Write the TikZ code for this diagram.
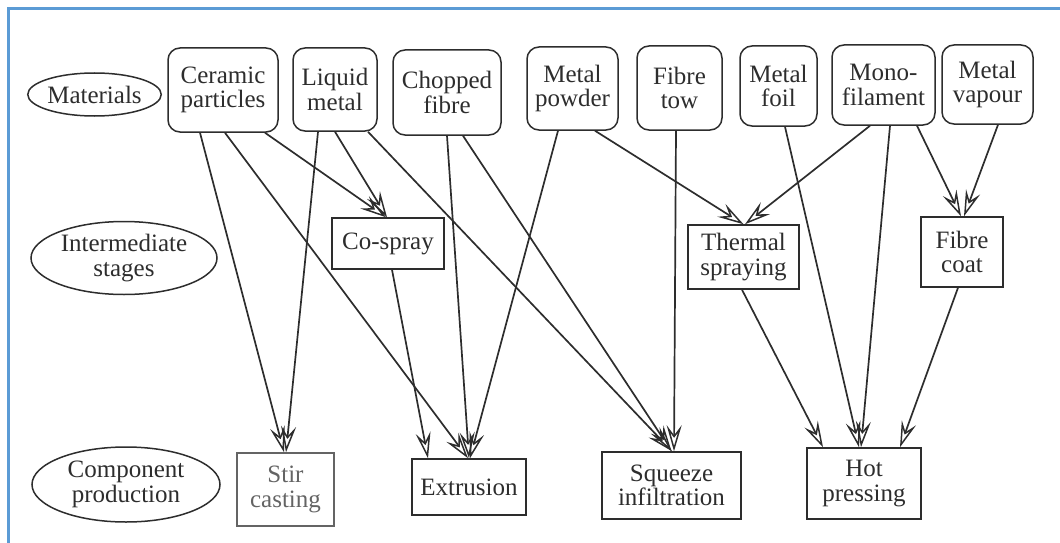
\documentclass[tikz,border=0pt]{standalone}
\usepackage{fontspec}
\setmainfont{Liberation Serif}
\newfontfamily\diagfont{Liberation Serif}
\usetikzlibrary{shapes.geometric,arrows.meta}
\definecolor{ink}{RGB}{45,45,45}
\definecolor{paleink}{RGB}{100,100,100}
\definecolor{frameblue}{RGB}{91,155,213}
\tikzset{
  every node/.style={font=\diagfont\fontsize{25}{24.5}\selectfont, text=ink, align=center, inner sep=0pt},
  stage/.style={draw=ink, line width=1.5pt, ellipse},
  source/.style={draw=ink, line width=1.5pt, rounded corners=12pt},
  process/.style={draw=ink, line width=1.5pt},
  flow/.style={draw=ink, line width=1.7pt,
    -{Stealth[open, length=26pt, width=15pt, inset=10pt, line width=1.5pt]}}
}
\begin{document}
\begin{tikzpicture}[x=1pt, y=-1pt]
  \useasboundingbox (0,0) rectangle (1060,543);
  % frame
  \draw[frameblue, line width=2.2pt] (1060,8.5) -- (8.5,8.5) -- (8.5,543);

  % row labels
  \node[stage, minimum width=125pt, minimum height=43pt] (mat) at (94.5,94.5) {Materials};
  \node[stage, minimum width=186pt, minimum height=73pt] (inter) at (124,258) {Intermediate\\stages};
  \node[stage, minimum width=188pt, minimum height=75pt] (comp) at (126,484.5) {Component\\production};

  % materials
  \node[source, minimum width=110pt, minimum height=84pt] (cer) at (223,90) {Ceramic\\particles};
  \node[source, minimum width=84pt, minimum height=83pt] (liq) at (335,89.5) {Liquid\\metal};
  \node[source, minimum width=108pt, minimum height=85pt] (cho) at (447,92.5) {Chopped\\fibre};
  \node[source, minimum width=91pt, minimum height=83pt] (pow) at (572.5,88.5) {Metal\\powder};
  \node[source, minimum width=85pt, minimum height=84pt] (tow) at (679.5,88) {Fibre\\tow};
  \node[source, minimum width=77pt, minimum height=80pt] (foil) at (778.5,86) {Metal\\foil};
  \node[source, minimum width=103pt, minimum height=80pt] (mono) at (883.5,85) {Mono-\\filament};
  \node[source, minimum width=91pt, minimum height=79pt] (vap) at (987.5,84.5) {Metal\\vapour};

  % intermediate stages
  \node[process, minimum width=112pt, minimum height=51pt] (cos) at (388,243.5) {Co-spray};
  \node[process, minimum width=111pt, minimum height=64pt] (the) at (743.5,257) {Thermal\\spraying};
  \node[process, minimum width=82pt, minimum height=70pt] (fco) at (962,252) {Fibre\\coat};

  % component production
  \node[process, draw=paleink, text=paleink, minimum width=97pt, minimum height=73pt] (stir) at (285.5,489.5) {Stir\\casting};
  \node[process, minimum width=114pt, minimum height=56pt] (ext) at (469,487) {Extrusion};
  \node[process, minimum width=139pt, minimum height=67pt] (sqz) at (671.5,485.5) {Squeeze\\infiltration};
  \node[process, minimum width=114pt, minimum height=71pt] (hot) at (864,483.5) {Hot\\pressing};

  % routes
  \draw[flow] ([xshift=-23pt]cer.south) -- ([xshift=-1.5pt]stir.north);
  \draw[flow] ([xshift=2pt]cer.south) -- ([xshift=-1pt]ext.north);
  \draw[flow] ([xshift=42pt]cer.south) -- ([xshift=-2pt]cos.north);
  \draw[flow] ([xshift=-17pt]liq.south) -- ([xshift=0.5pt]stir.north);
  \draw[flow] (liq.south) -- ([xshift=-1pt]cos.north);
  \draw[flow] ([xshift=33pt]liq.south) -- ([xshift=0.5pt]sqz.north);
  \draw[flow] (cho.south) -- (ext.north);
  \draw[flow] ([xshift=16pt]cho.south) -- (sqz.north);
  \draw[flow] ([xshift=-14.5pt]pow.south) -- ([xshift=1pt]ext.north);
  \draw[flow] ([xshift=22.5pt]pow.south) -- (the.north);
  \draw[flow] ([xshift=-3.5pt]tow.south) -- ([xshift=2.5pt]sqz.north);
  \draw[flow] ([xshift=4pt]cos.south) -- ([xshift=-41pt]ext.north);
  \draw[flow] ([xshift=6.5pt]foil.south) -- ([xshift=-5pt]hot.north);
  \draw[flow] ([xshift=-13.5pt]mono.south) -- ([xshift=1.5pt]the.north);
  \draw[flow] ([xshift=6.5pt]mono.south) -- ([xshift=-3pt]hot.north);
  \draw[flow] ([xshift=33.5pt]mono.south) -- ([xshift=-1pt]fco.north);
  \draw[flow] ([xshift=10.5pt]vap.south) -- ([xshift=2pt]fco.north);
  \draw[flow] ([xshift=-1.5pt]the.south) -- ([xshift=-41pt]hot.north);
  \draw[flow] ([xshift=-4pt]fco.south) -- ([xshift=36pt]hot.north);
\end{tikzpicture}
\end{document}
